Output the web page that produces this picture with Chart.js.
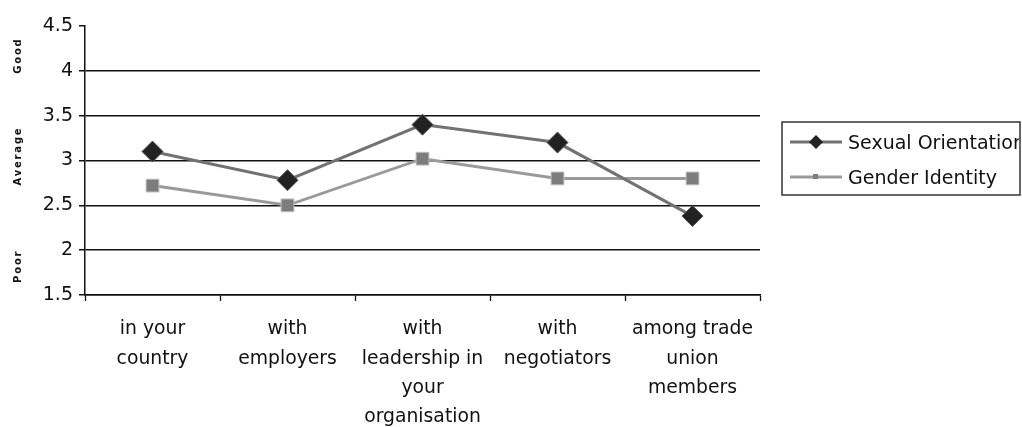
<!DOCTYPE html>
<html>
<head>
<meta charset="utf-8">
<script src="https://cdn.jsdelivr.net/npm/chart.js@4/dist/chart.umd.min.js"></script>
<style>
  html, body { margin: 0; padding: 0; background: #fff; }
  #wrap { width: 1022px; height: 427px; position: relative; }
</style>
</head>
<body>
<div id="wrap"><canvas id="c" width="1022" height="427"></canvas></div>
<script>
var categories = [
  ['in your', 'country'],
  ['with', 'employers'],
  ['with', 'leadership in', 'your', 'organisation'],
  ['with', 'negotiators'],
  ['among trade', 'union', 'members']
];
var sexualOrientation = [3.1, 2.78, 3.4, 3.2, 2.38];
var genderIdentity = [2.72, 2.5, 3.02, 2.8, 2.8];
var seriesNames = ['Sexual Orientation', 'Gender Identity'];
// side labels along the y axis, placed at these values
var ratingLabels = ['Good', 'Average', 'Poor'];
var ratingValues = [4.17, 3.05, 1.82];

var FONT = '"DejaVu Sans", Verdana, sans-serif';

// rotated Good / Average / Poor, plus the boxed legend on the right
var sidePlugin = {
  id: 'side',
  afterDraw: function(chart) {
    var ctx = chart.ctx;
    var y = chart.scales.y;
    ctx.save();
    ctx.fillStyle = '#111';
    ctx.font = 'bold 10px ' + FONT;
    ctx.letterSpacing = '1.8px';
    ctx.textAlign = 'center';
    ctx.textBaseline = 'middle';
    for (var i = 0; i < ratingLabels.length; i++) {
      ctx.save();
      ctx.translate(18, y.getPixelForValue(ratingValues[i]));
      ctx.rotate(-Math.PI / 2);
      ctx.fillText(ratingLabels[i], 0, 0);
      ctx.restore();
    }
    ctx.letterSpacing = '0px';

    // legend
    var bx = 782, by = 122, bw = 238, bh = 73;
    ctx.strokeStyle = '#333';
    ctx.lineWidth = 1.5;
    ctx.strokeRect(bx, by, bw, bh);
    ctx.save();
    ctx.beginPath();
    ctx.rect(bx, by, bw - 1, bh);
    ctx.clip();
    ctx.font = '19px ' + FONT;
    ctx.textAlign = 'left';
    ctx.textBaseline = 'alphabetic';
    var rows = [142, 177];
    chart.data.datasets.forEach(function(ds, k) {
      var ry = rows[k];
      ctx.strokeStyle = ds.borderColor;
      ctx.lineWidth = 3;
      ctx.beginPath();
      ctx.moveTo(790, ry);
      ctx.lineTo(842, ry);
      ctx.stroke();
      ctx.fillStyle = ds.pointBackgroundColor;
      if (ds.pointStyle === 'rectRot') {
        ctx.beginPath();
        ctx.moveTo(816, ry - 7);
        ctx.lineTo(823, ry);
        ctx.lineTo(816, ry + 7);
        ctx.lineTo(809, ry);
        ctx.closePath();
        ctx.fill();
      } else {
        ctx.fillRect(813, ry - 3, 5, 5);
      }
      ctx.fillStyle = '#111';
      ctx.fillText(seriesNames[k], 848, ry + 7);
    });
    ctx.restore();
    ctx.restore();
  }
};

new Chart(document.getElementById('c'), {
  type: 'line',
  data: {
    labels: categories,
    datasets: [
      {
        label: seriesNames[0],
        data: sexualOrientation,
        borderColor: '#727272',
        borderWidth: 3,
        pointStyle: 'rectRot',
        pointRadius: 10.5,
        pointBackgroundColor: '#222',
        pointBorderColor: '#555',
        pointBorderWidth: 1,
        tension: 0
      },
      {
        label: seriesNames[1],
        data: genderIdentity,
        borderColor: '#9a9a9a',
        borderWidth: 3,
        pointStyle: 'rect',
        pointRadius: 9,
        pointBackgroundColor: '#7d7d7d',
        pointBorderColor: '#bbb',
        pointBorderWidth: 1,
        tension: 0
      }
    ]
  },
  options: {
    responsive: false,
    animation: false,
    layout: { padding: { top: 26, right: 262, left: 0, bottom: 0 } },
    plugins: { legend: { display: false }, tooltip: { enabled: false } },
    scales: {
      x: {
        offset: true,
        grid: { offset: true, drawOnChartArea: false, tickLength: 6, tickColor: '#111', tickWidth: 1.3 },
        border: { color: '#111', width: 1.5 },
        ticks: {
          color: '#111',
          font: { family: FONT, size: 18.8, lineHeight: 1.55 },
          padding: 14,
          maxRotation: 0,
          autoSkip: false
        },
        afterFit: function(s) { s.height = 132; }
      },
      y: {
        min: 1.5,
        max: 4.5,
        ticks: {
          stepSize: 0.5,
          color: '#111',
          font: { family: FONT, size: 19 },
          padding: 6,
          callback: function(v) { return String(v); }
        },
        grid: {
          color: function(c) { return c.tick && c.tick.value === 4.5 ? 'rgba(0,0,0,0)' : '#111'; },
          lineWidth: 1.5,
          tickColor: '#111',
          tickLength: 6
        },
        border: { color: '#111', width: 1.5 },
        afterFit: function(s) { s.width = 85; }
      }
    }
  },
  plugins: [sidePlugin]
});
</script>
</body>
</html>
